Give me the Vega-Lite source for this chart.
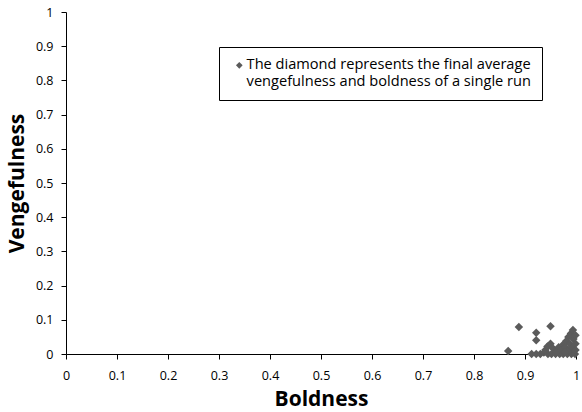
{
  "$schema": "https://vega.github.io/schema/vega-lite/v6.json",
  "width": 510,
  "height": 342,
  "autosize": "none",
  "padding": {"left": 66, "top": 12, "right": 6, "bottom": 58},
  "background": "white",
  "config": {"view": {"stroke": null}, "font": "Open Sans"},
  "data": {
    "values": [
      {"b": 0.867, "v": 0.009, "s": "run"},
      {"b": 0.888, "v": 0.079, "s": "run"},
      {"b": 0.922, "v": 0.062, "s": "run"},
      {"b": 0.922, "v": 0.040, "s": "run"},
      {"b": 0.950, "v": 0.081, "s": "run"},
      {"b": 0.913, "v": 0.0, "s": "run"},
      {"b": 0.922, "v": 0.0, "s": "run"},
      {"b": 0.930, "v": 0.0, "s": "run"},
      {"b": 0.937, "v": 0.004, "s": "run"},
      {"b": 0.945, "v": 0.0, "s": "run"},
      {"b": 0.952, "v": 0.0, "s": "run"},
      {"b": 0.960, "v": 0.0, "s": "run"},
      {"b": 0.968, "v": 0.0, "s": "run"},
      {"b": 0.975, "v": 0.0, "s": "run"},
      {"b": 0.983, "v": 0.0, "s": "run"},
      {"b": 0.991, "v": 0.0, "s": "run"},
      {"b": 0.998, "v": 0.0, "s": "run"},
      {"b": 0.940, "v": 0.012, "s": "run"},
      {"b": 0.944, "v": 0.022, "s": "run"},
      {"b": 0.950, "v": 0.030, "s": "run"},
      {"b": 0.955, "v": 0.016, "s": "run"},
      {"b": 0.962, "v": 0.008, "s": "run"},
      {"b": 0.966, "v": 0.020, "s": "run"},
      {"b": 0.971, "v": 0.012, "s": "run"},
      {"b": 0.975, "v": 0.028, "s": "run"},
      {"b": 0.979, "v": 0.020, "s": "run"},
      {"b": 0.981, "v": 0.038, "s": "run"},
      {"b": 0.985, "v": 0.050, "s": "run"},
      {"b": 0.988, "v": 0.030, "s": "run"},
      {"b": 0.990, "v": 0.060, "s": "run"},
      {"b": 0.994, "v": 0.070, "s": "run"},
      {"b": 0.995, "v": 0.044, "s": "run"},
      {"b": 0.999, "v": 0.055, "s": "run"},
      {"b": 0.999, "v": 0.030, "s": "run"},
      {"b": 0.986, "v": 0.012, "s": "run"},
      {"b": 0.993, "v": 0.018, "s": "run"},
      {"b": 0.999, "v": 0.012, "s": "run"},
      {"b": 0.978, "v": 0.006, "s": "run"}
    ]
  },
  "mark": {"type": "point", "shape": "diamond", "filled": true, "size": 72, "opacity": 1},
  "encoding": {
    "x": {
      "field": "b", "type": "quantitative",
      "scale": {"domain": [0, 1], "nice": false, "zero": false},
      "axis": {
        "title": "Boldness", "values": [0, 0.1, 0.2, 0.3, 0.4, 0.5, 0.6, 0.7, 0.8, 0.9, 1],
        "format": "~g", "grid": false, "domainColor": "#000", "tickColor": "#000",
        "tickSize": 5, "labelFontSize": 12.5, "labelColor": "#000", "labelPadding": 10,
        "labelFont": "Open Sans", "labelFlush": false, "labelOverlap": false,
        "titleFont": "Open Sans", "titleFontSize": 21, "titleFontWeight": "bold", "titleColor": "#000",
        "titleY": 51, "titleBaseline": "alphabetic"
      }
    },
    "y": {
      "field": "v", "type": "quantitative",
      "scale": {"domain": [0, 1], "nice": false, "zero": false},
      "axis": {
        "title": "Vengefulness", "values": [0, 0.1, 0.2, 0.3, 0.4, 0.5, 0.6, 0.7, 0.8, 0.9, 1],
        "format": "~g", "grid": false, "domainColor": "#000", "tickColor": "#000",
        "tickSize": 5, "labelFontSize": 12.5, "labelColor": "#000", "labelPadding": 8,
        "labelFont": "Open Sans", "labelFlush": false, "labelOverlap": false,
        "titleFont": "Open Sans", "titleFontSize": 21, "titleFontWeight": "bold", "titleColor": "#000",
        "titleX": -43, "titleY": 171, "titleAngle": -90, "titleAlign": "center", "titleBaseline": "alphabetic"
      }
    },
    "color": {
      "field": "s", "type": "nominal",
      "scale": {"domain": ["run"], "range": ["#5b5b5b"]},
      "legend": {
        "title": null, "orient": "none", "legendX": 153, "legendY": 35,
        "labelExpr": "['The diamond represents the final average', 'vengefulness and boldness of a single run']",
        "labelFont": "Open Sans", "labelFontSize": 14.6, "labelColor": "#000", "labelLimit": 400,
        "labelBaseline": "middle", "labelOffset": 0,
        "symbolType": "diamond", "symbolSize": 45, "symbolOffset": 2,
        "strokeColor": "#000", "fillColor": "white", "padding": 11,
        "encoding": {"labels": {"update": {"lineHeight": {"value": 21}, "dy": {"value": 10.5}}}}
      }
    }
  }
}
